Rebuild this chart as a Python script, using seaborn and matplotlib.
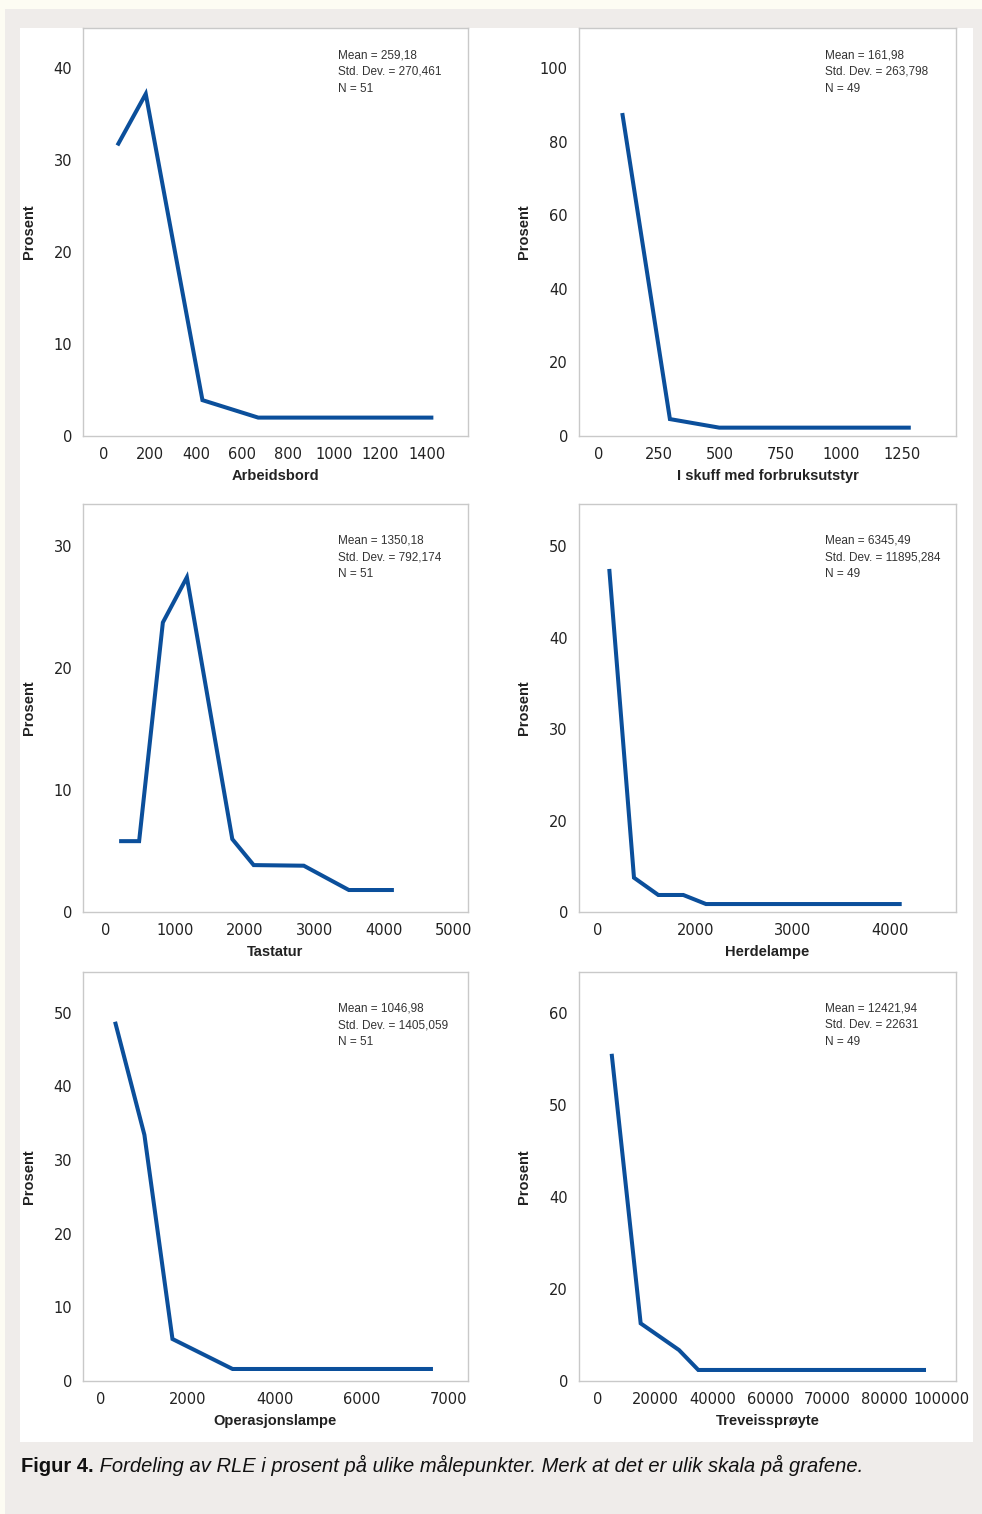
import matplotlib
matplotlib.use("Agg")
import matplotlib.pyplot as plt
from matplotlib import font_manager
from matplotlib.patches import Rectangle
import pandas as pd
import seaborn as sns

arbeidsbord_x = [58, 181, 427, 669, 1429]
arbeidsbord_y = [31.6, 37.2, 3.9, 2.0, 2.0]

skuff_x = [99, 295, 498, 1286]
skuff_y = [87.8, 4.6, 2.27, 2.27]

tastatur_x = [188, 476, 818, 1164, 1818, 2126, 2848, 3497, 4146]
tastatur_y = [5.8, 5.8, 23.7, 27.4, 5.97, 3.84, 3.79, 1.8, 1.8]

herdelampe_x = [116, 370, 620, 877, 1110, 3121]
herdelampe_y = [37.5, 3.75, 1.86, 1.86, 0.87, 0.87]

operasjonslampe_x = [323, 999, 1645, 3029, 7643]
operasjonslampe_y = [48.75, 33.4, 5.7, 1.63, 1.63]

treveis_x = [2385, 7446, 14136, 17504, 57243]
treveis_y = [35.6, 6.27, 3.37, 1.2, 1.2]

names = ["Arbeidsbord", "I skuff med forbruksutstyr", "Tastatur",
         "Herdelampe", "Operasjonslampe", "Treveissprøyte"]

stats = [
    ["Mean = 259,18", "Std. Dev. = 270,461", "N = 51"],
    ["Mean = 161,98", "Std. Dev. = 263,798", "N = 49"],
    ["Mean = 1350,18", "Std. Dev. = 792,174", "N = 51"],
    ["Mean = 6345,49", "Std. Dev. = 11895,284", "N = 49"],
    ["Mean = 1046,98", "Std. Dev. = 1405,059", "N = 51"],
    ["Mean = 12421,94", "Std. Dev. = 22631", "N = 49"],
]

# tick values and the labels printed at them (the original labels are uneven)
xticks = [
    [0, 200, 400, 600, 800, 1000, 1200, 1400],
    [0, 250, 500, 750, 1000, 1250],
    [0, 1000, 2000, 3000, 4000, 5000],
    [0, 1000, 2000, 3000],
    [0, 2000, 4000, 6000, 8000],
    [0, 10000, 20000, 30000, 40000, 50000, 60000],
]
xticklabels = [
    ["0", "200", "400", "600", "800", "1000", "1200", "1400"],
    ["0", "250", "500", "750", "1000", "1250"],
    ["0", "1000", "2000", "3000", "4000", "5000"],
    ["0", "2000", "3000", "4000"],
    ["0", "2000", "4000", "6000", "7000"],
    ["0", "20000", "40000", "60000", "70000", "80000", "100000"],
]
yticks = [
    [0, 10, 20, 30, 40],
    [0, 20, 40, 60, 80, 100],
    [0, 10, 20, 30],
    [0, 10, 20, 30, 40],
    [0, 10, 20, 30, 40, 50],
    [0, 10, 20, 30, 40],
]
yticklabels = [
    ["0", "10", "20", "30", "40"],
    ["0", "20", "40", "60", "80", "100"],
    ["0", "10", "20", "30"],
    ["0", "20", "30", "40", "50"],
    ["0", "10", "20", "30", "40", "50"],
    ["0", "20", "40", "50", "60"],
]

xlims = [(-90, 1578), (-79, 1472), (-328, 5209), (-195, 3679), (-408, 8443), (-3316, 62478)]
ylims = [(0, 44.4), (0, 111.0), (0, 33.4), (0, 44.6), (0, 55.5), (0, 44.5)]

series = [
    (arbeidsbord_x, arbeidsbord_y),
    (skuff_x, skuff_y),
    (tastatur_x, tastatur_y),
    (herdelampe_x, herdelampe_y),
    (operasjonslampe_x, operasjonslampe_y),
    (treveis_x, treveis_y),
]

sns.set_style("white")
installed = {f.name for f in font_manager.fontManager.ttflist}
narrow = "Liberation Sans Narrow" if "Liberation Sans Narrow" in installed else "Liberation Sans"
plt.rcParams["font.family"] = ["DejaVu Sans"]

W, H = 982, 1514
fig = plt.figure(figsize=(W / 100, H / 100), dpi=100, facecolor="#fdfcf3")

# page background: grey frame, white panel
bg = fig.add_axes([0, 0, 1, 1], zorder=-5)
bg.set_xlim(0, W)
bg.set_ylim(H, 0)
bg.axis("off")
bg.add_patch(Rectangle((5, 9), W - 5, H - 9, facecolor="#efecea", edgecolor="none"))
bg.add_patch(Rectangle((20.5, 27.5), 953, 1414, facecolor="white", edgecolor="none"))

cols = [(83.3, 467.7), (579, 956)]
rows = [(27.7, 436), (504, 912), (972, 1381)]
line_color = "#0b4f9b"
spine_color = "#c9c9c9"

for i, (xs, ys) in enumerate(series):
    (l, r), (t, b) = cols[i % 2], rows[i // 2]
    ax = fig.add_axes([l / W, 1 - b / H, (r - l) / W, (b - t) / H])
    ax.set_facecolor("white")
    df = pd.DataFrame({"x": xs, "y": ys})
    sns.lineplot(data=df, x="x", y="y", ax=ax, color=line_color, linewidth=2.9,
                 solid_capstyle="butt", solid_joinstyle="miter")
    ax.set_xlim(*xlims[i])
    ax.set_ylim(*ylims[i])
    ax.set_xticks(xticks[i])
    ax.set_xticklabels(xticklabels[i])
    ax.set_yticks(yticks[i])
    ax.set_yticklabels(yticklabels[i])
    ax.tick_params(axis="both", direction="out", length=4, width=1, color="#b5b5b5",
                   labelsize=10.5, labelcolor="#222222", pad=4)
    for s in ax.spines.values():
        s.set_color(spine_color)
        s.set_linewidth(1)

    ax.set_xlabel(names[i], fontfamily=narrow, fontweight="bold", fontsize=10.5, color="#222222")
    ax.set_ylabel("Prosent", fontfamily=narrow, fontweight="bold", fontsize=10.5, color="#222222")
    ax.xaxis.set_label_coords(0.5, -0.08)
    ax.xaxis.label.set_va("top")
    ax.yaxis.set_label_coords(-0.122 if i % 2 == 0 else -0.126, 0.5)

    hpx = b - t
    top_off = 27.6 if i < 2 else 36.8
    tx = 0.6626 if i % 2 == 0 else 0.652
    for k, line in enumerate(stats[i]):
        ax.text(tx, 1 - (top_off + 16.6 * k) / hpx, line, transform=ax.transAxes,
                ha="left", va="center", fontsize=8.5, fontfamily=narrow, color="#333333")

cap1 = bg.text(21, 1467, "Figur 4.", fontfamily=narrow, fontweight="bold",
               fontsize=14.5, color="#111111", ha="left", va="center")
bg.annotate(" Fordeling av RLE i prosent på ulike målepunkter. Merk at det er ulik skala på grafene.",
            xy=(1, 0), xycoords=cap1, ha="left", va="bottom",
            fontfamily=narrow, fontstyle="italic", fontsize=14.5, color="#111111")

fig.savefig("out.png", dpi=100, facecolor=fig.get_facecolor())
